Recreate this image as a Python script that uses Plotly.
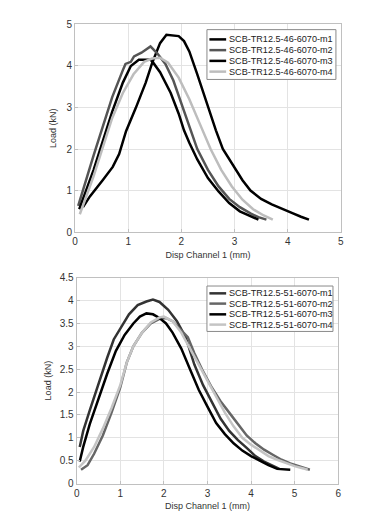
import plotly.graph_objects as go

# ---- Top chart data (SCB-TR12.5-46-6070) ----
t_names = ["SCB-TR12.5-46-6070-m1", "SCB-TR12.5-46-6070-m2", "SCB-TR12.5-46-6070-m3", "SCB-TR12.5-46-6070-m4"]
t1_x = [0.15, 0.28, 0.52, 0.71, 0.83, 0.96, 1.14, 1.33, 1.45, 1.6, 1.72, 1.8, 1.95, 2.05, 2.15, 2.3, 2.5, 2.65, 2.78, 3.0, 3.15, 3.3, 3.5, 3.7, 3.9, 4.1, 4.25, 4.4]
t1_y = [0.6, 0.86, 1.25, 1.57, 1.88, 2.43, 2.98, 3.6, 4.07, 4.55, 4.75, 4.74, 4.72, 4.6, 4.35, 3.8, 3.0, 2.45, 2.0, 1.55, 1.25, 1.0, 0.8, 0.67, 0.55, 0.45, 0.37, 0.3]
t2_x = [0.06, 0.2, 0.35, 0.5, 0.7, 0.9, 0.95, 1.05, 1.11, 1.25, 1.42, 1.55, 1.7, 1.85, 2.0, 2.15, 2.3, 2.5, 2.7, 2.9, 3.1, 3.3, 3.45, 3.6]
t2_y = [0.63, 1.25, 1.85, 2.45, 3.25, 3.9, 4.05, 4.1, 4.23, 4.32, 4.47, 4.3, 4.05, 3.65, 3.1, 2.55, 2.0, 1.5, 1.1, 0.8, 0.6, 0.45, 0.36, 0.3]
t3_x = [0.08, 0.2, 0.35, 0.5, 0.7, 0.9, 1.05, 1.2, 1.42, 1.47, 1.6, 1.8, 1.95, 2.05, 2.15, 2.3, 2.5, 2.7, 2.9, 3.1, 3.3, 3.45]
t3_y = [0.55, 0.95, 1.5, 2.1, 2.9, 3.6, 4.0, 4.15, 4.15, 4.08, 3.85, 3.35, 2.85, 2.45, 2.15, 1.75, 1.3, 0.98, 0.7, 0.5, 0.38, 0.3]
t4_x = [0.09, 0.2, 0.35, 0.5, 0.7, 0.9, 1.1, 1.3, 1.45, 1.6, 1.75, 1.95, 2.15, 2.35, 2.55, 2.75, 2.95, 3.15, 3.35, 3.55, 3.72]
t4_y = [0.43, 0.8, 1.35, 1.95, 2.75, 3.35, 3.8, 4.1, 4.18, 4.2, 4.08, 3.72, 3.2, 2.6, 2.0, 1.5, 1.1, 0.78, 0.55, 0.4, 0.3]

# ---- Bottom chart data (SCB-TR12.5-51-6070) ----
b_names = ["SCB-TR12.5-51-6070-m1", "SCB-TR12.5-51-6070-m2", "SCB-TR12.5-51-6070-m3", "SCB-TR12.5-51-6070-m4"]
b1_x = [0.07, 0.15, 0.3, 0.5, 0.7, 0.85, 1.0, 1.2, 1.4, 1.6, 1.75, 1.9, 2.1, 2.3, 2.5, 2.7, 2.9, 3.1, 3.3, 3.5, 3.7, 3.9, 4.1, 4.3, 4.5, 4.65]
b1_y = [0.8, 1.15, 1.6, 2.2, 2.75, 3.15, 3.4, 3.7, 3.9, 3.98, 4.02, 3.97, 3.8, 3.55, 3.2, 2.6, 2.15, 1.8, 1.42, 1.15, 0.95, 0.78, 0.6, 0.48, 0.38, 0.32]
b2_x = [0.1, 0.15, 0.25, 0.4, 0.6, 0.8, 1.0, 1.15, 1.3, 1.5, 1.7, 1.9, 2.05, 2.2, 2.4, 2.55, 2.7, 2.9, 3.1, 3.3, 3.5, 3.7, 3.9, 4.1, 4.3, 4.5, 4.7, 4.9, 5.1, 5.35]
b2_y = [0.3, 0.33, 0.4, 0.65, 1.05, 1.55, 2.1, 2.65, 3.0, 3.3, 3.5, 3.6, 3.62, 3.55, 3.35, 3.2, 2.85, 2.45, 2.1, 1.8, 1.55, 1.3, 1.05, 0.88, 0.74, 0.63, 0.52, 0.44, 0.37, 0.3]
b3_x = [0.07, 0.15, 0.3, 0.5, 0.7, 0.9, 1.1, 1.3, 1.45, 1.6, 1.75, 1.9, 2.05, 2.2, 2.4, 2.6, 2.8, 3.0, 3.2, 3.4, 3.6, 3.8, 4.0, 4.2, 4.4, 4.6, 4.9]
b3_y = [0.48, 0.8, 1.3, 1.85, 2.4, 2.9, 3.25, 3.5, 3.65, 3.72, 3.7, 3.62, 3.5, 3.3, 2.95, 2.5, 2.05, 1.68, 1.32, 1.08, 0.88, 0.72, 0.6, 0.5, 0.4, 0.32, 0.3]
b4_x = [0.05, 0.2, 0.4, 0.6, 0.8, 1.0, 1.15, 1.3, 1.5, 1.7, 1.9, 2.0, 2.2, 2.4, 2.6, 2.8, 3.0, 3.2, 3.4, 3.6, 3.8, 4.0, 4.2, 4.4, 4.6, 4.8, 5.0, 5.2, 5.3]
b4_y = [0.35, 0.5, 0.8, 1.2, 1.65, 2.15, 2.65, 3.0, 3.3, 3.52, 3.63, 3.65, 3.55, 3.3, 2.95, 2.6, 2.25, 1.88, 1.55, 1.25, 1.0, 0.85, 0.72, 0.6, 0.52, 0.45, 0.38, 0.33, 0.3]

top_colors = ["#000000", "#555555", "#000000", "#bdbdbd"]
bot_colors = ["#333333", "#666666", "#000000", "#c4c4c4"]

W, H = 391, 516
font = "Liberation Sans, Arial, sans-serif"

fig = go.Figure()
top_series = [(t1_x, t1_y), (t2_x, t2_y), (t3_x, t3_y), (t4_x, t4_y)]
bot_series = [(b1_x, b1_y), (b2_x, b2_y), (b3_x, b3_y), (b4_x, b4_y)]
for (x, y), n, c in zip(top_series, t_names, top_colors):
    fig.add_trace(go.Scatter(x=x, y=y, name=n, mode="lines", line=dict(color=c, width=2.5),
                             xaxis="x", yaxis="y", showlegend=False))
for (x, y), n, c in zip(bot_series, b_names, bot_colors):
    fig.add_trace(go.Scatter(x=x, y=y, name=n, mode="lines", line=dict(color=c, width=2.5),
                             xaxis="x2", yaxis="y2", showlegend=False))

# ---- compact legend boxes (paper/pixel layout) ----
shapes, annotations = [], []


def px_x(p):
    return p / W


def px_y(p):
    return 1 - p / H


def add_legend(names, colors, left, right, top, bottom, rows):
    shapes.append(dict(type="rect", xref="paper", yref="paper", x0=px_x(left), x1=px_x(right),
                       y0=px_y(bottom), y1=px_y(top), line=dict(color="#8a8a8a", width=1),
                       fillcolor="white", layer="above"))
    for n, c, r in zip(names, colors, rows):
        shapes.append(dict(type="line", xref="paper", yref="paper", x0=px_x(left + 2.5), x1=px_x(left + 19.5),
                           y0=px_y(r), y1=px_y(r), line=dict(color=c, width=2.5), layer="above"))
        annotations.append(dict(text=n, xref="paper", yref="paper", x=px_x(left + 20), y=px_y(r),
                                xanchor="left", yanchor="middle", showarrow=False,
                                font=dict(family=font, size=9.1, color="#222222")))


add_legend(t_names, top_colors, 199, 330, 16, 67, [26, 37, 48, 59])
add_legend(b_names, bot_colors, 199, 327, 278.5, 325, [286, 296.5, 307.5, 318])

ax_common = dict(showgrid=True, gridcolor="#e3e3e3", gridwidth=1, showline=True, linecolor="#c0c0c0",
                 linewidth=1, mirror=True, zeroline=False, ticks="inside", ticklen=3, tickcolor="#c0c0c0",
                 tickfont=dict(family=font, size=10, color="#333333"))

fig.update_layout(
    width=W, height=H, margin=dict(l=0, r=0, t=0, b=0),
    paper_bgcolor="white", plot_bgcolor="white",
    font=dict(family=font, color="#333333"),
    showlegend=False,
    shapes=shapes, annotations=annotations,
    xaxis=dict(domain=[65 / W, 335 / W], range=[0, 5], dtick=1, anchor="y",
               title=dict(text="Disp Channel 1 (mm)", font=dict(size=9, family=font), standoff=5), **ax_common),
    yaxis=dict(domain=[1 - 223.3 / H, 1 - 10.7 / H], range=[0, 5], dtick=1, anchor="x",
               title=dict(text="Load (kN)", font=dict(size=9, family=font), standoff=8), **ax_common),
    xaxis2=dict(domain=[66.7 / W, 332.3 / W], range=[0, 6], dtick=1, anchor="y2",
                title=dict(text="Disp Channel 1 (mm)", font=dict(size=9, family=font), standoff=5), **ax_common),
    yaxis2=dict(domain=[1 - 480.7 / H, 1 - 270 / H], range=[0, 4.5], dtick=0.5, anchor="x2",
                title=dict(text="Load (kN)", font=dict(size=9, family=font), standoff=6), **ax_common),
)

fig.write_html("out.html")
